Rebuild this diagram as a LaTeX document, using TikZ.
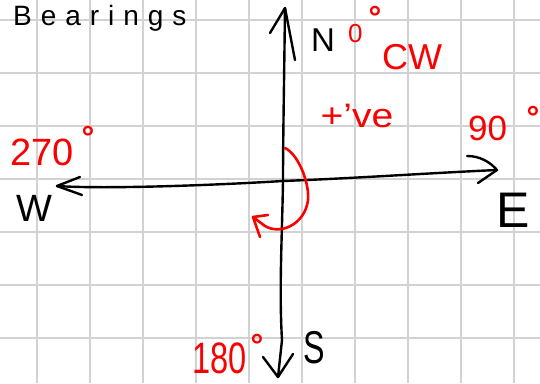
\documentclass[tikz,border=0pt]{standalone}
\usepackage{fontspec}
\setmainfont{Liberation Sans}
\definecolor{gridgray}{RGB}{210,210,210}
\definecolor{inkred}{RGB}{250,0,0}
\tikzset{
  gridline/.style={draw=gridgray, line width=1.8pt},
  axisline/.style={draw=black, line width=2.4pt, line cap=round, line join=round},
  redline/.style={draw=inkred, line width=2.6pt, line cap=round, line join=round},
  blacklabel/.style={inner sep=0pt, text=black},
  redlabel/.style={inner sep=0pt, text=inkred},
  degmark/.style={inner sep=0pt, text=inkred, font=\fontsize{32}{34}\selectfont\bfseries},
}
\begin{document}
\begin{tikzpicture}[x=1pt, y=-1pt]
\useasboundingbox (0,0) rectangle (540,383);
\fill[white] (0,0) rectangle (540,383);
% grid
\foreach \x in {37,90,...,514} \draw[gridline] (\x,0) -- (\x,383);
\foreach \y in {20,73,...,338} \draw[gridline] (0,\y) -- (540,\y);
% title
\node[blacklabel, anchor=base west] (title) at (13,25)
  {\fontsize{28}{30}\selectfont\addfontfeature{LetterSpace=32}Bearings};
% axis coordinates
\coordinate (Ntip) at (285,8);
\coordinate (Stip) at (278,377);
\coordinate (Wtip) at (57,186);
\coordinate (Etip) at (497,170);
\coordinate (O) at (283,181);
% vertical axis
\draw[axisline] (Ntip) .. controls (284,90) and (283,140) .. (O)
  .. controls (282,240) and (279,290) .. (282,340) -- (Stip);
% horizontal axis
\draw[axisline] (Wtip) .. controls (100,189) and (200,186) .. (O)
  .. controls (360,178) and (430,173) .. (Etip);
% arrowheads
\draw[axisline] (270,33) -- (Ntip) -- (295,60);
\draw[axisline] (263,357) -- (Stip) -- (293,354);
\draw[axisline] (80,177) -- (Wtip) -- (82,195);
\draw[axisline] (467,156) .. controls (480,156) and (490,162) .. (Etip) -- (478,183);
% red turning arrow
\coordinate (rstart) at (285,148);
\coordinate (rtip) at (253,217);
\draw[redline] (rstart) .. controls (300,155) and (312,190) .. (307,205)
  .. controls (302,225) and (280,235) .. (265,226) -- (rtip);
\draw[redline] (268,215) -- (rtip) -- (260,237);
% compass letters
\node[blacklabel] (north) at (323,40) {\fontsize{33}{35}\selectfont N};
\node[blacklabel, xscale=0.7] (south) at (314,348) {\fontsize{46}{48}\selectfont S};
\node[blacklabel] (west) at (34,208) {\fontsize{38}{40}\selectfont W};
\node[blacklabel] (east) at (513,210) {\fontsize{50}{52}\selectfont E};
% bearings
\node[redlabel, anchor=base west] (deg0) at (348,42) {\fontsize{26}{28}\selectfont 0};
\node[degmark] (deg0m) at (375,17) {°};
\node[redlabel, anchor=base west] (deg90) at (468,140) {\fontsize{35}{37}\selectfont 90};
\node[degmark] (deg90m) at (533,117) {°};
\node[redlabel, anchor=base west] (deg270) at (10,165) {\fontsize{38}{40}\selectfont 270};
\node[degmark] (deg270m) at (88,137) {°};
\node[redlabel, anchor=base west, xscale=0.74] (deg180) at (192,373) {\fontsize{44}{46}\selectfont 180};
\node[degmark] (deg180m) at (257,345) {°};
\node[redlabel] (cw) at (412,57) {\fontsize{36}{38}\selectfont CW};
\node[redlabel, xscale=1.15] (pos) at (357,116) {\fontsize{34}{36}\selectfont +'ve};
\end{tikzpicture}
\end{document}
